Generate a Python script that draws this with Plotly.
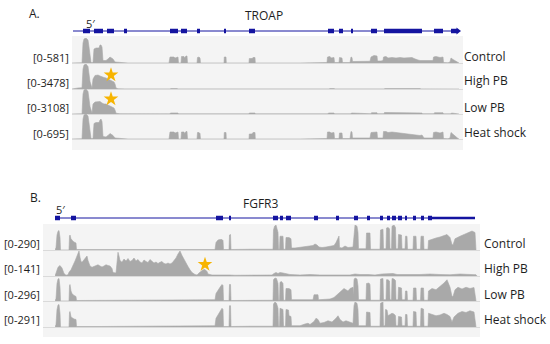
import plotly.graph_objects as go

W, H = 550, 344

# ---------------- data ----------------
# Coverage profiles: (genomic position, coverage as % of the track's data range)
tracks = ["Control", "High PB", "Low PB", "Heat shock"]
troap_ranges = ["[0-581]", "[0-3478]", "[0-3108]", "[0-695]"]
fgfr3_ranges = ["[0-290]", "[0-141]", "[0-296]", "[0-291]"]

troap_exons = [(83, 90), (94, 103), (107, 114), (124, 127), (170, 178), (181, 187), (197, 200),
               (224, 226), (249, 255), (328, 334), (339, 343), (351, 353), (371, 377), (384, 422),
               (434, 443), (451, 457)]
fgfr3_exons = [(55, 60), (71, 76), (216, 223), (229, 231), (273, 278), (280, 283), (286, 291),
               (314, 318), (336, 339), (354, 358), (367, 370), (380, 383), (387, 390), (392, 396),
               (398, 402), (405, 407), (413, 416), (421, 424), (428, 432)]
fgfr3_utr = (432, 475)

troap_control = [(72, 0), (82, 1), (83, 80), (84, 96), (86, 100), (88, 92), (89, 64), (90, 36), (91, 2), (93, 2),
                 (94, 56), (96, 60), (99, 60), (100, 72), (101, 72), (102, 64), (103, 10), (106, 10), (107, 12),
                 (108, 16), (110, 24), (111, 22), (113, 16), (115, 4), (120, 3), (127, 2), (128, 0),
                 (169, 0), (170, 24), (174, 24), (175, 20), (178, 24), (178.5, 0),
                 (181, 0), (181.5, 26), (184, 26), (184.5, 20), (186, 28), (187, 28), (187.5, 0),
                 (197, 0), (197.5, 22), (199, 24), (200, 20), (200.5, 0),
                 (224, 0), (224.3, 24), (226, 24), (226.3, 0),
                 (249, 0), (249.3, 18), (252, 18), (253, 22), (255, 22), (255.3, 0),
                 (300, 0), (320, 1), (327, 2), (327.5, 24), (330, 26), (331, 20), (334, 22), (334.5, 2),
                 (339, 2), (339.5, 22), (342, 20), (342.5, 2),
                 (350, 2), (351, 24), (352, 22), (352.5, 6), (356, 6), (360, 5), (364, 7), (368, 6), (370, 7),
                 (371, 24), (374, 30), (377, 28), (377.5, 8), (381, 8), (383, 10), (383.5, 24), (386, 26),
                 (388, 20), (392, 22), (396, 20), (400, 22), (404, 20), (408, 20), (412, 22), (414, 18),
                 (416, 14), (418, 12), (420, 10), (422, 10), (424, 8), (430, 8), (433, 10), (433.5, 24),
                 (436, 26), (440, 22), (443, 24), (443.5, 2), (448, 1), (450, 4), (451, 20), (453, 14),
                 (456, 6), (458, 2), (459, 0)]

troap_high = [(72, 0), (74, 2), (78, 4), (82, 5), (83, 80), (84, 96), (86, 100), (88, 90), (89, 60), (90, 30),
              (92, 3), (93, 40), (95, 54), (98, 56), (100, 52), (102, 48), (104, 46), (106, 44), (108, 40),
              (110, 36), (112, 34), (114, 28), (115, 20), (116, 4), (118, 1), (125, 0.5), (170, 0.5),
              (171, 2), (177, 2), (178, 0.5), (329, 0.5), (330, 2), (334, 2), (335, 0.5), (384, 0.5),
              (385, 2), (420, 2), (421, 0.5), (459, 0)]

troap_low = [(72, 0), (80, 1), (82, 1), (83, 80), (84, 96), (86, 100), (88, 90), (89, 60), (90, 30), (92, 3),
             (93, 40), (95, 48), (98, 48), (100, 50), (102, 44), (104, 40), (106, 40), (108, 36), (110, 32),
             (112, 30), (114, 24), (115, 16), (116, 3), (120, 1), (128, 0.5),
             (170, 0.5), (170.5, 4), (178, 4), (178.5, 0.5), (181, 0.5), (181.5, 3), (187, 3), (187.5, 0.5),
             (197, 0.5), (197.5, 3), (200, 3), (200.5, 0.5), (224, 0.5), (224.3, 3), (226, 3), (226.3, 0.5),
             (249, 0.5), (249.3, 4), (255, 4), (255.3, 0.5), (328, 0.5), (328.5, 4), (334, 4), (334.5, 0.5),
             (339, 0.5), (339.5, 3), (343, 3), (343.5, 0.5), (351, 0.5), (351.5, 4), (353, 4), (353.5, 1),
             (371, 1), (371.5, 5), (377, 5), (377.5, 1), (384, 1), (384.5, 6), (400, 6), (410, 5),
             (422, 4), (422.5, 1), (434, 1), (434.5, 5), (443, 5), (443.5, 0.5), (451, 0.5), (451.5, 4),
             (456, 1), (459, 0)]

troap_heat = [(72, 0), (82, 1), (83, 80), (84, 96), (86, 100), (88, 92), (89, 64), (90, 36), (91, 2), (93, 2),
              (94, 62), (96, 66), (99, 66), (100, 76), (101, 80), (102, 70), (103, 10), (106, 8), (107, 10),
              (108, 14), (110, 22), (111, 20), (113, 14), (115, 4), (120, 3), (127, 2), (128, 0),
              (169, 0), (170, 28), (174, 28), (175, 24), (178, 28), (178.5, 0),
              (181, 0), (181.5, 28), (184, 28), (184.5, 22), (186, 30), (187, 30), (187.5, 0),
              (197, 0), (197.5, 26), (199, 26), (200, 22), (200.5, 0),
              (224, 0), (224.3, 26), (226, 26), (226.3, 0),
              (249, 0), (249.3, 20), (252, 20), (253, 26), (255, 26), (255.3, 0),
              (300, 0), (320, 1), (327, 2), (327.5, 28), (330, 28), (331, 24), (334, 26), (334.5, 2),
              (339, 2), (339.5, 24), (342, 24), (342.5, 2),
              (350, 2), (351, 30), (352, 28), (352.5, 4), (360, 4), (370, 4),
              (371, 26), (374, 28), (377, 28), (377.5, 4), (383, 4), (383.5, 30), (386, 30),
              (388, 26), (392, 28), (396, 26), (400, 24), (404, 22), (408, 18), (412, 16), (416, 16),
              (420, 14), (422, 16), (424, 4), (433, 4), (433.5, 26), (436, 28), (440, 24), (443, 28),
              (443.5, 2), (448, 1), (450, 4), (451, 26), (453, 18), (456, 8), (458, 2), (459, 0)]

fgfr3_control = [(55, 0), (56, 10), (57, 60), (58, 75), (59, 78), (60, 50), (60.5, 0),
                 (69, 0), (69.5, 55), (70, 60), (71, 45), (72, 38), (73, 35), (74, 32), (75, 30), (76, 28),
                 (76.5, 2), (100, 2), (130, 2), (150, 3), (170, 2), (200, 3), (215, 2), (216, 30),
                 (218, 40), (220, 42), (222, 42), (223, 38), (223.5, 2),
                 (229, 2), (229.5, 60), (230.5, 62), (231, 2), (250, 3), (273, 3),
                 (273.5, 80), (274.5, 95), (276, 100), (277, 85), (278, 70), (278.5, 3), (279.5, 3),
                 (280, 55), (283, 55), (283.5, 3), (285.5, 3), (286, 50), (289, 50), (291, 45), (291.5, 8),
                 (295, 8), (300, 10), (305, 12), (310, 14), (313, 18), (315, 24), (317, 20), (319, 12),
                 (322, 10), (326, 12), (330, 14), (334, 18), (336, 30), (338, 50), (339, 56), (339.5, 10),
                 (342, 8), (345, 16), (348, 10), (353, 12),
                 (354, 80), (355, 100), (357, 95), (358, 70), (358.5, 5), (366, 5), (366.5, 68), (369, 70),
                 (370, 68), (370.5, 3), (380, 3), (380.5, 80), (383, 83), (383.5, 5), (386, 5),
                 (386.5, 88), (388, 90), (389.5, 85), (390, 5), (391.5, 5), (392, 95), (394, 100),
                 (395.5, 90), (396, 5), (398, 5), (398.5, 62), (401.5, 60), (402, 5), (405, 5),
                 (405.5, 55), (407, 55), (407.5, 3), (413, 3), (413.5, 55), (416, 55), (416.5, 3),
                 (420.5, 3), (421, 55), (423.5, 55), (424, 3), (428, 3), (428.5, 38), (432, 44),
                 (436, 48), (440, 52), (444, 56), (447, 62), (450, 50), (452, 22), (453, 20), (455, 45),
                 (460, 55), (464, 62), (468, 66), (472, 76), (475, 70), (476, 0)]

fgfr3_high = [(55, 0), (56, 15), (58, 35), (60, 42), (62, 32), (64, 10), (66, 3), (68, 5), (69, 15), (71, 25),
              (73, 40), (75, 60), (77, 80), (78, 95), (79, 100), (80, 75), (81, 58), (82, 55), (84, 65),
              (86, 75), (87, 80), (88, 62), (89, 50), (90, 40), (92, 35), (94, 38), (96, 42), (98, 45),
              (100, 40), (102, 36), (104, 40), (106, 45), (108, 42), (110, 40), (112, 30), (113, 14),
              (116, 12), (117, 60), (118, 95), (119, 80), (120, 62), (122, 55), (124, 68), (126, 60),
              (128, 70), (130, 58), (132, 62), (134, 72), (136, 60), (138, 66), (140, 56), (142, 52),
              (144, 64), (146, 58), (148, 54), (150, 66), (152, 58), (154, 52), (156, 56), (158, 50),
              (160, 55), (162, 58), (164, 50), (166, 48), (168, 52), (170, 48), (172, 52), (174, 60),
              (176, 72), (178, 88), (180, 100), (182, 82), (184, 65), (186, 50), (188, 38), (190, 25),
              (192, 14), (195, 6), (197, 4), (199, 12), (201, 20), (203, 25), (205, 26), (207, 18),
              (208, 8), (212, 4), (218, 4), (222, 5), (226, 3), (230, 4), (235, 3), (260, 3), (272, 4),
              (274, 10), (276, 14), (278, 10), (280, 14), (283, 12), (286, 10), (290, 6), (300, 4),
              (310, 6), (320, 4), (340, 5), (350, 4), (355, 8), (360, 6), (368, 6), (375, 4), (382, 8),
              (388, 10), (393, 10), (397, 6), (403, 5), (410, 6), (420, 6), (430, 8), (440, 6),
              (450, 5), (460, 8), (470, 6), (476, 5), (477, 0)]

fgfr3_low = [(55, 0), (56, 10), (57, 70), (58, 88), (59, 90), (60, 55), (60.5, 0), (69, 0), (69.5, 60),
             (70, 66), (71, 40), (72, 30), (74, 22), (76, 18), (76.5, 2), (100, 2), (150, 3), (200, 3),
             (215, 5), (216, 30), (218, 45), (220, 55), (222, 66), (223, 62), (223.5, 2), (229, 2),
             (229.5, 66), (230.5, 66), (231, 2), (250, 3), (273, 3), (273.5, 85), (275, 92), (276.5, 90),
             (278, 70), (278.5, 3), (279.5, 3), (280, 75), (281.5, 78), (283, 70), (283.5, 3), (285.5, 3),
             (286, 50), (289, 50), (291, 45), (291.5, 5), (300, 4), (313, 5), (314, 25), (318, 25),
             (318.5, 5), (325, 5), (330, 8), (334, 14), (336, 22), (338, 30), (340, 38), (342, 42),
             (344, 50), (346, 45), (348, 40), (350, 50), (352, 55), (353, 55), (353.5, 20), (354, 85),
             (355, 92), (357, 88), (358, 60), (358.5, 5), (366, 5), (366.5, 70), (369, 72), (370, 65),
             (370.5, 3), (380, 3), (380.5, 88), (383, 90), (383.5, 5), (386, 5), (386.5, 85), (388, 85),
             (389.5, 80), (390, 5), (391.5, 5), (392, 90), (394, 88), (395.5, 82), (396, 5), (398, 5),
             (398.5, 55), (401.5, 52), (402, 5), (405, 5), (405.5, 40), (407, 40), (407.5, 3), (413, 3),
             (413.5, 52), (416, 52), (416.5, 3), (420.5, 3), (421, 52), (423.5, 52), (424, 3), (428, 3),
             (428.5, 40), (432, 50), (436, 45), (440, 58), (444, 72), (447, 85), (450, 55), (452, 18),
             (453, 18), (455, 45), (458, 55), (462, 48), (466, 55), (470, 50), (474, 54), (476, 0)]

fgfr3_heat = [(55, 0), (56, 10), (57, 70), (58, 88), (59, 90), (60, 55), (60.5, 0), (69, 0), (69.5, 58),
              (70, 62), (71, 40), (72, 36), (74, 32), (76, 30), (76.5, 2), (100, 2), (150, 3), (200, 3),
              (215, 5), (216, 35), (218, 50), (220, 62), (222, 75), (223, 70), (223.5, 2), (229, 2),
              (229.5, 85), (230.5, 85), (231, 2), (250, 3), (273, 3), (273.5, 92), (275, 100), (276.5, 95),
              (278, 75), (278.5, 3), (279.5, 3), (280, 75), (283, 70), (283.5, 3), (285.5, 3), (286, 70),
              (288.5, 68), (289, 45), (291, 42), (291.5, 5), (300, 5), (305, 12), (308, 15), (310, 10),
              (314, 22), (316, 35), (318, 30), (320, 15), (324, 18), (328, 25), (332, 20), (336, 35),
              (338, 45), (340, 30), (343, 20), (346, 25), (350, 18), (353, 15), (354, 85), (355, 100),
              (357, 95), (358, 70), (358.5, 5), (366, 5), (366.5, 60), (370, 58), (370.5, 3), (380, 3),
              (380.5, 95), (383, 100), (383.5, 5), (385, 5), (385.5, 70), (387, 68), (388, 45), (390, 50),
              (392, 55), (394, 52), (395.5, 45), (396, 5), (398, 5), (398.5, 42), (401.5, 40), (402, 5),
              (405, 5), (405.5, 50), (407, 50), (407.5, 3), (413, 3), (413.5, 62), (416, 60), (416.5, 3),
              (420.5, 3), (421, 75), (423.5, 72), (424, 3), (428, 3), (428.5, 55), (432, 50), (436, 45),
              (440, 48), (444, 55), (447, 50), (450, 42), (452, 20), (454, 40), (458, 55), (462, 62),
              (466, 58), (470, 65), (474, 60), (476, 0)]

troap_profiles = [troap_control, troap_high, troap_low, troap_heat]
fgfr3_profiles = [fgfr3_control, fgfr3_high, fgfr3_low, fgfr3_heat]

# stars: (panel, track index, position, % height)
stars = [("A", 1, 111, 56), ("A", 2, 111, 60), ("B", 1, 205, 46)]

# ---------------- layout geometry (pixels) ----------------
A_x = (72, 462)
B_x = (55, 478)
A_base = [63, 89, 114, 139]
B_base = [250, 276, 301, 327]
TRACK_H = 25
A_gene_y = 31
B_gene_y = 218

def fy(px):
    return 1 - px / H

def fx(px):
    return px / W

FILL = "#a9a9a9"
BLUE = "#1414a0"
TXT = "#1e1e1e"
FONT = "Open Sans"

fig = go.Figure()
layout = dict(width=W, height=H, margin=dict(l=0, r=0, t=0, b=0),
              paper_bgcolor="white", plot_bgcolor="rgba(0,0,0,0)", showlegend=False)

layout["xaxis"] = dict(domain=[fx(A_x[0]), fx(A_x[1])], range=list(A_x), visible=False, fixedrange=True)
layout["xaxis2"] = dict(domain=[fx(B_x[0]), fx(B_x[1])], range=list(B_x), visible=False, fixedrange=True)

shapes = []
# track backgrounds
shapes.append(dict(type="rect", xref="paper", yref="paper", x0=fx(72), x1=fx(463), y0=fy(150), y1=fy(36),
                   fillcolor="#f4f4f4", line=dict(width=0), layer="below"))
shapes.append(dict(type="rect", xref="paper", yref="paper", x0=fx(43), x1=fx(480), y0=fy(337), y1=fy(224),
                   fillcolor="#f4f4f4", line=dict(width=0), layer="below"))

yi = 1
def yname(i):
    return "yaxis" if i == 1 else f"yaxis{i}"
def yref(i):
    return "y" if i == 1 else f"y{i}"

track_axes = {}
for panel, bases, xr, profiles, xref in [("A", A_base, A_x, troap_profiles, "x"),
                                         ("B", B_base, B_x, fgfr3_profiles, "x2")]:
    for k, (base, prof) in enumerate(zip(bases, profiles)):
        layout[yname(yi)] = dict(domain=[fy(base), fy(base - TRACK_H)], range=[0, 100],
                                 visible=False, fixedrange=True, anchor=xref)
        track_axes[(panel, k)] = (xref, yref(yi))
        xs = [p[0] for p in prof]
        ys = [p[1] for p in prof]
        fig.add_trace(go.Scatter(x=xs, y=ys, mode="lines", fill="tozeroy", fillcolor=FILL,
                                 line=dict(color=FILL, width=0.6), xaxis=xref, yaxis=yref(yi),
                                 hoverinfo="skip"))
        shapes.append(dict(type="line", xref="paper", yref="paper",
                           x0=fx(72 if panel == "A" else 43), x1=fx(463 if panel == "A" else 480),
                           y0=fy(base + 0.5), y1=fy(base + 0.5), line=dict(color="#dadada", width=1),
                           layer="below"))
        yi += 1

# gene models
for panel, gy, exons, xref, (l0, l1) in [("A", A_gene_y, troap_exons, "x", (73, 458)),
                                          ("B", B_gene_y, fgfr3_exons, "x2", (55, 475))]:
    layout[yname(yi)] = dict(domain=[fy(gy + 5), fy(gy - 5)], range=[-1, 1], visible=False,
                             fixedrange=True, anchor=xref)
    fig.add_trace(go.Scatter(x=[l0, l1], y=[0, 0], mode="lines", line=dict(color=BLUE, width=1),
                             xaxis=xref, yaxis=yref(yi), hoverinfo="skip"))
    ex, ey = [], []
    for a, b in exons:
        ex += [a, b, None]
        ey += [0, 0, None]
    fig.add_trace(go.Scatter(x=ex, y=ey, mode="lines", line=dict(color=BLUE, width=4.5),
                             xaxis=xref, yaxis=yref(yi), hoverinfo="skip"))
    if panel == "B":
        fig.add_trace(go.Scatter(x=list(fgfr3_utr), y=[0, 0], mode="lines",
                                 line=dict(color=BLUE, width=2.5), xaxis=xref, yaxis=yref(yi),
                                 hoverinfo="skip"))
    else:
        fig.add_trace(go.Scatter(x=[458], y=[0], mode="markers",
                                 marker=dict(symbol="triangle-right", size=6, color=BLUE),
                                 xaxis=xref, yaxis=yref(yi), hoverinfo="skip"))
    yi += 1

# stars
for panel, k, sx, sy in stars:
    xr, yr = track_axes[(panel, k)]
    fig.add_trace(go.Scatter(x=[sx], y=[sy], mode="markers",
                             marker=dict(symbol="star", size=11, color="#f7b400", line=dict(width=0)),
                             xaxis=xr, yaxis=yr, hoverinfo="skip"))

ann = []
def text(s, x, y, size, anchor="left"):
    ann.append(dict(text=s, x=fx(x), y=fy(y), xref="paper", yref="paper", showarrow=False,
                    xanchor=anchor, yanchor="middle", font=dict(family=FONT, size=size, color=TXT)))

text("A.", 27, 14, 12)
text("5\u2032", 84, 23, 11)
text("TROAP", 264, 16, 12, "center")
for s, yy in zip(troap_ranges, [58, 82, 107, 133]):
    text(s, 71, yy, 11, "right")
for s, yy in zip(tracks, [56, 81, 107, 132]):
    text(s, 462, yy, 12)

text("B.", 28, 197, 12)
text("5\u2032", 54, 209, 11)
text("FGFR3", 261, 203, 12, "center")
for s, yy in zip(fgfr3_ranges, [243, 268, 294, 319]):
    text(s, 42, yy, 11, "right")
for s, yy in zip(tracks, [243, 268, 294, 319]):
    text(s, 482, yy, 12)

layout["shapes"] = shapes
layout["annotations"] = ann
fig.update_layout(**layout)
fig.write_html("out.html", config={"displayModeBar": False, "staticPlot": True})

# remove the browser's default page margin so the figure sits at the window origin
with open("out.html", encoding="utf-8") as f:
    html = f.read()
html = html.replace("<head>", "<head><style>html,body{margin:0;padding:0;overflow:hidden;}</style>", 1)
with open("out.html", "w", encoding="utf-8") as f:
    f.write(html)
